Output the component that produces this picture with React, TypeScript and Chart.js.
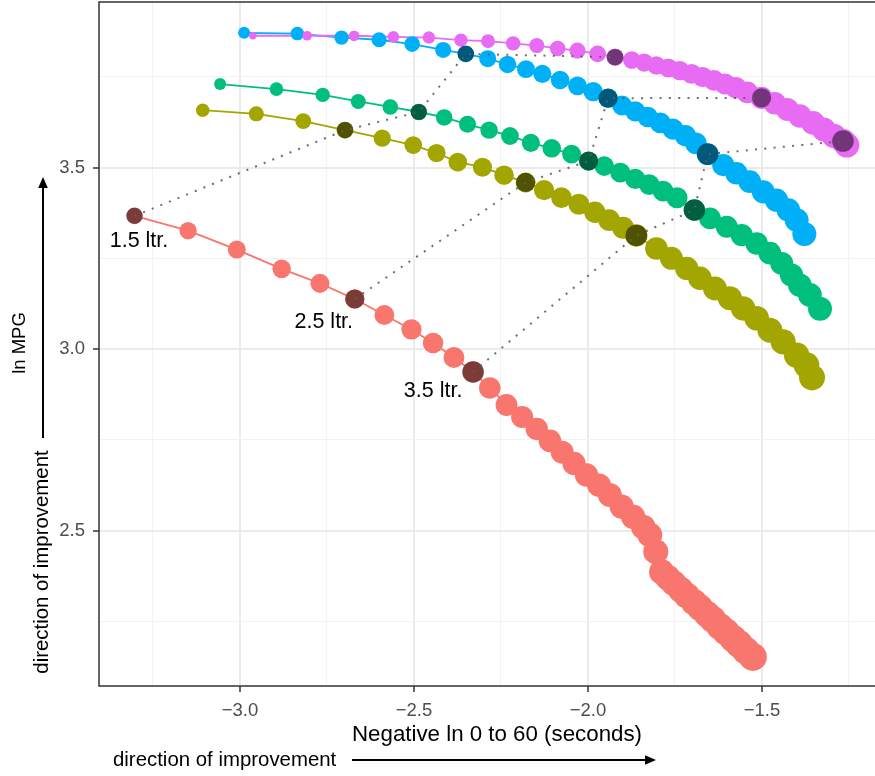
import { useEffect, useRef } from 'react';
import { Chart, registerables } from 'chart.js';

Chart.register(...registerables);

const FONT = "'Liberation Sans', Arial, Helvetica, sans-serif";

// Negative ln(0 to 60 seconds) and ln(MPG) along each curve
const coralX = [-3.303, -3.149, -3.009, -2.880, -2.770, -2.670, -2.585, -2.507, -2.445, -2.385, -2.330, -2.282, -2.234, -2.189, -2.147, -2.109, -2.074, -2.040, -2.004, -1.968, -1.937, -1.903, -1.870, -1.841, -1.822, -1.805, -1.788, -1.770, -1.753, -1.733, -1.716, -1.695, -1.678, -1.658, -1.641, -1.621, -1.603, -1.583, -1.566, -1.546, -1.526];
const coralY = [3.367, 3.326, 3.274, 3.221, 3.181, 3.138, 3.094, 3.054, 3.017, 2.977, 2.937, 2.893, 2.846, 2.813, 2.780, 2.747, 2.716, 2.685, 2.653, 2.625, 2.598, 2.566, 2.538, 2.510, 2.488, 2.442, 2.386, 2.370, 2.355, 2.337, 2.321, 2.303, 2.288, 2.270, 2.255, 2.236, 2.221, 2.203, 2.188, 2.169, 2.152];

const oliveX = [-3.107, -2.953, -2.818, -2.698, -2.591, -2.502, -2.435, -2.374, -2.303, -2.241, -2.179, -2.126, -2.076, -2.026, -1.980, -1.939, -1.899, -1.861, -1.803, -1.760, -1.716, -1.678, -1.635, -1.592, -1.554, -1.515, -1.477, -1.439, -1.400, -1.372, -1.356];
const oliveY = [3.658, 3.648, 3.628, 3.603, 3.581, 3.562, 3.540, 3.515, 3.501, 3.479, 3.459, 3.438, 3.417, 3.399, 3.377, 3.355, 3.334, 3.313, 3.277, 3.250, 3.222, 3.195, 3.167, 3.140, 3.112, 3.085, 3.052, 3.020, 2.983, 2.956, 2.922];

const greenX = [-3.057, -2.895, -2.762, -2.660, -2.568, -2.486, -2.413, -2.346, -2.284, -2.224, -2.164, -2.104, -2.047, -1.998, -1.953, -1.907, -1.864, -1.824, -1.784, -1.744, -1.694, -1.649, -1.601, -1.558, -1.515, -1.477, -1.443, -1.415, -1.391, -1.362, -1.333];
const greenY = [3.730, 3.716, 3.700, 3.682, 3.667, 3.653, 3.638, 3.619, 3.603, 3.587, 3.568, 3.553, 3.537, 3.518, 3.504, 3.486, 3.469, 3.453, 3.435, 3.417, 3.383, 3.360, 3.337, 3.314, 3.291, 3.264, 3.236, 3.204, 3.176, 3.149, 3.111];

const azureX = [-2.988, -2.835, -2.708, -2.600, -2.505, -2.416, -2.351, -2.288, -2.231, -2.178, -2.131, -2.080, -2.030, -1.985, -1.942, -1.902, -1.864, -1.828, -1.792, -1.756, -1.720, -1.690, -1.656, -1.611, -1.573, -1.535, -1.496, -1.458, -1.424, -1.400, -1.378];
const azureY = [3.871, 3.869, 3.858, 3.852, 3.840, 3.824, 3.813, 3.800, 3.784, 3.771, 3.758, 3.741, 3.725, 3.709, 3.691, 3.671, 3.655, 3.639, 3.623, 3.606, 3.588, 3.567, 3.537, 3.507, 3.484, 3.461, 3.433, 3.410, 3.383, 3.355, 3.317];

const orchidX = [-2.963, -2.807, -2.672, -2.559, -2.457, -2.365, -2.287, -2.215, -2.147, -2.087, -2.030, -1.972, -1.922, -1.874, -1.838, -1.803, -1.769, -1.736, -1.702, -1.670, -1.638, -1.606, -1.575, -1.542, -1.501, -1.463, -1.427, -1.391, -1.353, -1.322, -1.293, -1.267, -1.256];
const orchidY = [3.863, 3.863, 3.863, 3.860, 3.858, 3.851, 3.848, 3.842, 3.836, 3.828, 3.822, 3.813, 3.804, 3.796, 3.789, 3.781, 3.774, 3.767, 3.758, 3.749, 3.740, 3.730, 3.720, 3.707, 3.692, 3.677, 3.660, 3.642, 3.623, 3.605, 3.587, 3.573, 3.562];

// Engine sizes that are highlighted, and where each one sits on every curve
const litreLabels = ['1.5 ltr.', '2.5 ltr.', '3.5 ltr.'];
const coralMarked = [0, 5, 10];
const oliveMarked = [3, 10, 17];
const greenMarked = [5, 13, 20];
const azureMarked = [6, 14, 22];
const orchidMarked = [12, 24, 31];

// Axis ticks
const xMajorTicks = [-3.0, -2.5, -2.0, -1.5];
const xMinorTicks = [-3.25, -2.75, -2.25, -1.75, -1.25];
const yMajorTicks = [2.5, 3.0, 3.5];
const yMinorTicks = [2.25, 2.75, 3.25, 3.75];

// ---- styling ----
const curves = [
  { xs: coralX, ys: coralY, marked: coralMarked, color: '#F8766D', r0: 8.0, r1: 14.0 },
  { xs: oliveX, ys: oliveY, marked: oliveMarked, color: '#A3A500', r0: 6.7, r1: 13.0 },
  { xs: greenX, ys: greenY, marked: greenMarked, color: '#00BF7D', r0: 6.0, r1: 12.0 },
  { xs: azureX, ys: azureY, marked: azureMarked, color: '#00B0F6', r0: 6.0, r1: 12.0 },
  { xs: orchidX, ys: orchidY, marked: orchidMarked, color: '#E76BF3', r0: 3.7, r1: 12.5 },
];
const markedRadius = [8.3, 9.6, 10.8];
const labelNudge = [[4.5, 25], [-31, 23], [-40, 19]];

const toPoints = (xs: number[], ys: number[]) => xs.map((v, i) => ({ x: v, y: ys[i] }));
const isMajor = (v: number) => Math.abs(v * 2 - Math.round(v * 2)) < 1e-6;
const fmt = (v: number) => Number(v).toFixed(1).replace('-', '\u2212');

function drawArrow(ctx: CanvasRenderingContext2D, x1: number, y1: number, x2: number, y2: number) {
  const ang = Math.atan2(y2 - y1, x2 - x1);
  const head = 11;
  const half = 4.8;
  ctx.strokeStyle = '#000';
  ctx.fillStyle = '#000';
  ctx.lineWidth = 2;
  ctx.beginPath();
  ctx.moveTo(x1, y1);
  ctx.lineTo(x2 - Math.cos(ang) * head * 0.8, y2 - Math.sin(ang) * head * 0.8);
  ctx.stroke();
  ctx.beginPath();
  ctx.moveTo(x2, y2);
  ctx.lineTo(x2 - Math.cos(ang) * head - Math.sin(ang) * half, y2 - Math.sin(ang) * head + Math.cos(ang) * half);
  ctx.lineTo(x2 - Math.cos(ang) * head + Math.sin(ang) * half, y2 - Math.sin(ang) * head - Math.cos(ang) * half);
  ctx.closePath();
  ctx.fill();
}

const annotate = {
  id: 'annotate',
  afterDraw(chart: any) {
    const { ctx, chartArea: a, scales } = chart;
    const x = scales.x;
    const y = scales.y;
    ctx.save();

    // panel border (right side runs past the canvas edge)
    ctx.strokeStyle = '#333333';
    ctx.lineWidth = 1.5;
    ctx.beginPath();
    ctx.moveTo(a.right + 30, a.top);
    ctx.lineTo(a.left, a.top);
    ctx.lineTo(a.left, a.bottom);
    ctx.lineTo(a.right + 30, a.bottom);
    ctx.stroke();

    // tick labels
    ctx.fillStyle = '#4D4D4D';
    ctx.font = `18.5px ${FONT}`;
    ctx.textBaseline = 'middle';
    ctx.textAlign = 'center';
    xMajorTicks.forEach((v) => ctx.fillText(fmt(v), x.getPixelForValue(v), a.bottom + 25));
    ctx.textAlign = 'right';
    yMajorTicks.forEach((v) => ctx.fillText(fmt(v), a.left - 14, y.getPixelForValue(v)));

    // engine size labels beside the highlighted coral points
    ctx.fillStyle = '#000';
    ctx.font = `21.5px ${FONT}`;
    ctx.textAlign = 'center';
    litreLabels.forEach((t, k) => {
      const i = coralMarked[k];
      ctx.fillText(t, x.getPixelForValue(coralX[i]) + labelNudge[k][0], y.getPixelForValue(coralY[i]) + labelNudge[k][1]);
    });

    // x title and direction note
    ctx.font = `22.3px ${FONT}`;
    ctx.fillText('Negative ln 0 to 60 (seconds)', 497, 735);
    ctx.font = `20.4px ${FONT}`;
    ctx.textAlign = 'left';
    ctx.fillText('direction of improvement', 113, 760);
    drawArrow(ctx, 352, 760, 656, 760);

    // y title and direction note
    ctx.save();
    ctx.translate(20, 343);
    ctx.rotate(-Math.PI / 2);
    ctx.textAlign = 'center';
    ctx.font = `18.5px ${FONT}`;
    ctx.fillText('ln MPG', 0, 0);
    ctx.restore();

    ctx.save();
    ctx.translate(42, 562);
    ctx.rotate(-Math.PI / 2);
    ctx.textAlign = 'center';
    ctx.font = `20.4px ${FONT}`;
    ctx.fillText('direction of improvement', 0, 0);
    ctx.restore();
    drawArrow(ctx, 43, 438, 43, 177);

    ctx.restore();
  },
};

function buildDatasets() {
  const sets: any[] = [];
  // connecting lines, drawn below every point
  curves.forEach((c, k) => {
    sets.push({
      data: toPoints(c.xs, c.ys),
      showLine: true,
      borderColor: c.color,
      borderWidth: 1.8,
      pointRadius: 0,
      pointHoverRadius: 0,
      fill: false,
      order: 30 - k,
    });
  });
  // points, radius growing along the curve
  curves.forEach((c, k) => {
    const n = c.xs.length;
    sets.push({
      data: toPoints(c.xs, c.ys),
      showLine: false,
      pointRadius: c.xs.map((_, i) => c.r0 + (c.r1 - c.r0) * Math.pow(i / (n - 1), 0.6)),
      pointHoverRadius: 0,
      pointBackgroundColor: c.color,
      pointBorderWidth: 0,
      order: 20 - k,
    });
  });
  // darkened highlight for each engine size
  const marks: { x: number; y: number }[] = [];
  const radii: number[] = [];
  curves.forEach((c) => {
    c.marked.forEach((i, k) => {
      marks.push({ x: c.xs[i], y: c.ys[i] });
      radii.push(markedRadius[k]);
    });
  });
  sets.push({
    data: marks,
    showLine: false,
    pointRadius: radii,
    pointHoverRadius: 0,
    pointBackgroundColor: 'rgba(0,0,0,0.5)',
    pointBorderWidth: 0,
    order: 5,
  });
  // dotted paths joining equal engine sizes across curves
  litreLabels.forEach((_, k) => {
    sets.push({
      data: curves.map((c) => ({ x: c.xs[c.marked[k]], y: c.ys[c.marked[k]] })),
      showLine: true,
      borderColor: 'rgba(95,95,95,0.9)',
      borderWidth: 2,
      borderDash: [2, 7.3],
      borderCapStyle: 'butt',
      pointRadius: 0,
      pointHoverRadius: 0,
      fill: false,
      order: 1 + k,
    });
  });
  return sets;
}

function axisGrid() {
  return {
    color: (ctx: any) => (isMajor(ctx.tick.value) ? '#EBEBEB' : '#F2F2F2'),
    lineWidth: (ctx: any) => (isMajor(ctx.tick.value) ? 2 : 1),
    tickColor: (ctx: any) => (isMajor(ctx.tick.value) ? '#333333' : 'rgba(0,0,0,0)'),
    tickWidth: 1.5,
    tickLength: 6,
    drawTicks: true,
  };
}

export default function App() {
  const ref = useRef<HTMLCanvasElement | null>(null);

  useEffect(() => {
    if (!ref.current) return;
    const chart = new Chart(ref.current, {
      type: 'scatter',
      data: { datasets: buildDatasets() },
      options: {
        animation: false,
        responsive: false,
        devicePixelRatio: 1,
        events: [],
        layout: { autoPadding: false, padding: { top: 2, left: 0, right: 0, bottom: 0 } },
        plugins: { legend: { display: false }, tooltip: { enabled: false } },
        scales: {
          x: {
            type: 'linear',
            min: -3.405,
            max: -1.175,
            border: { display: false },
            grid: axisGrid(),
            afterBuildTicks: (s: any) => {
              s.ticks = [...xMajorTicks, ...xMinorTicks].sort((p, q) => p - q).map((value) => ({ value }));
            },
            afterFit: (s: any) => {
              s.height = 90;
            },
            ticks: { display: false },
          },
          y: {
            type: 'linear',
            min: 2.072,
            max: 3.956,
            border: { display: false },
            grid: axisGrid(),
            afterBuildTicks: (s: any) => {
              s.ticks = [...yMajorTicks, ...yMinorTicks].sort((p, q) => p - q).map((value) => ({ value }));
            },
            afterFit: (s: any) => {
              s.width = 99;
            },
            ticks: { display: false },
          },
        },
      },
      plugins: [annotate],
    });
    return () => chart.destroy();
  }, []);

  return (
    <div style={{ position: 'absolute', left: 0, top: 0, width: 875, height: 776, background: '#fff' }}>
      <canvas ref={ref} width={875} height={776} style={{ display: 'block' }} />
    </div>
  );
}
